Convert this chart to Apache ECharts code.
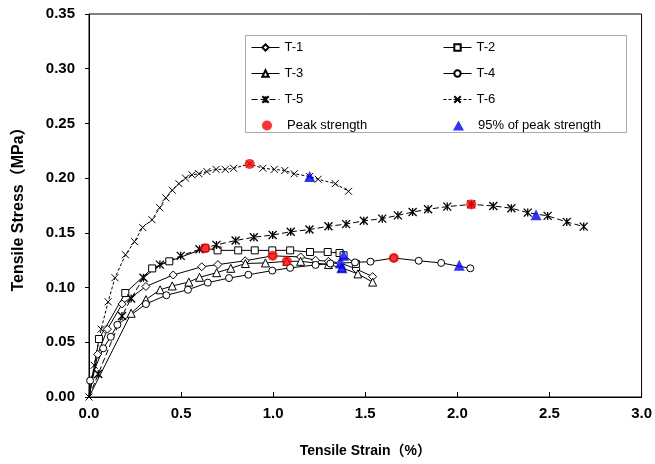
<!DOCTYPE html>
<html>
<head>
<meta charset="utf-8">
<script src="https://cdn.jsdelivr.net/npm/echarts@6/dist/echarts.min.js"></script>
<style>
  html, body { margin: 0; padding: 0; background: #fff; }
  #chart { width: 655px; height: 464px; }
</style>
</head>
<body>
<div id="chart"></div>
<script>
// Tensile stress (MPa) versus tensile strain (%) for specimens T-1 .. T-6
const t1 = [[0,0],[0.047,0.039],[0.10,0.062],[0.18,0.085],[0.309,0.101],[0.457,0.1115],[0.612,0.119],[0.70,0.121],[0.848,0.1245],[0.997,0.129],[1.149,0.128],[1.23,0.125],[1.30,0.124],[1.365,0.1225],[1.45,0.117],[1.54,0.110]];
const t2 = [[0,0],[0.054,0.053],[0.197,0.095],[0.343,0.1175],[0.436,0.124],[0.631,0.136],[0.698,0.134],[0.81,0.134],[0.90,0.134],[0.995,0.134],[1.092,0.134],[1.20,0.1325],[1.296,0.1325],[1.36,0.1316],[1.382,0.1295],[1.449,0.1216]];
const t3 = [[0,0],[0.229,0.0765],[0.309,0.089],[0.386,0.098],[0.452,0.1015],[0.542,0.105],[0.60,0.1094],[0.693,0.1136],[0.77,0.1176],[0.849,0.122],[0.958,0.1225],[1.074,0.124],[1.149,0.124],[1.30,0.121],[1.373,0.118],[1.46,0.1125],[1.54,0.105]];
const t4 = [[0,0],[0.006,0.015],[0.077,0.0445],[0.118,0.055],[0.154,0.066],[0.309,0.085],[0.42,0.093],[0.537,0.098],[0.645,0.1045],[0.76,0.1087],[0.865,0.1117],[0.995,0.1155],[1.092,0.118],[1.23,0.1207],[1.31,0.122],[1.444,0.123],[1.528,0.1237],[1.655,0.127],[1.79,0.1245],[1.912,0.1225],[2.07,0.1176]];
const t5 = [[0,0],[0.05,0.021],[0.179,0.074],[0.229,0.090],[0.296,0.109],[0.385,0.121],[0.498,0.129],[0.60,0.135],[0.692,0.139],[0.796,0.143],[0.895,0.146],[0.997,0.148],[1.095,0.151],[1.197,0.153],[1.30,0.156],[1.396,0.158],[1.492,0.161],[1.592,0.163],[1.677,0.166],[1.757,0.169],[1.841,0.1716],[1.945,0.174],[2.075,0.176],[2.195,0.1746],[2.293,0.1725],[2.382,0.1685],[2.49,0.1655],[2.594,0.160],[2.686,0.1557]];
const t6 = [[0,0],[0.028,0.029],[0.066,0.062],[0.104,0.087],[0.141,0.109],[0.198,0.130],[0.247,0.142],[0.291,0.155],[0.342,0.162],[0.384,0.173],[0.417,0.182],[0.452,0.189],[0.488,0.195],[0.524,0.200],[0.559,0.203],[0.597,0.204],[0.64,0.206],[0.69,0.208],[0.74,0.208],[0.785,0.209],[0.872,0.213],[0.944,0.209],[1.006,0.208],[1.063,0.207],[1.114,0.204],[1.198,0.2015],[1.244,0.199],[1.337,0.195],[1.409,0.188]];

// Peak strength and 95% of peak strength for each specimen
const peakPoints = [[0.997,0.129],[0.631,0.136],[1.074,0.124],[1.655,0.127],[2.075,0.176],[0.872,0.213]];
const peak95Points = [[1.365,0.1225],[1.382,0.1295],[1.373,0.118],[2.01,0.1205],[2.427,0.1665],[1.198,0.2015]];

const xTicks = { min: 0, max: 3, step: 0.5 };
const yTicks = { min: 0, max: 0.35, step: 0.05 };

const FONT = '"Liberation Sans", Arial, "Noto Sans CJK SC", sans-serif';
const crossPath = 'path://M0,0L10,10M10,0L0,10';
const starPath = 'path://M0,0L10,10M10,0L0,10M5,0L5,10';

function curve(name, data, symbol, size, dash, hideFirst) {
  return {
    name, type: 'line', data: data.map((p, i) =>
      (hideFirst && i === 0) ? { value: p, symbol: 'none' } : p),
    symbol, symbolSize: size, showAllSymbol: true,
    lineStyle: { color: '#000', width: 1, type: dash || 'solid' },
    itemStyle: { color: '#fff', borderColor: '#000', borderWidth: 1 },
    emphasis: { disabled: true }, animation: false, z: 3
  };
}

const series = [
  curve('T-1', t1, 'diamond', 8, null, true),
  curve('T-2', t2, 'rect', 7, null, true),
  curve('T-3', t3, 'triangle', 8, null, true),
  curve('T-4', t4, 'circle', 7, null, true),
  curve('T-5', t5, starPath, 8, [6, 3], true),
  curve('T-6', t6, crossPath, 7, [3, 2], false),
  { name: 'Peak strength', type: 'scatter', data: peakPoints, symbol: 'circle', symbolSize: 10,
    itemStyle: { color: '#ff0000' }, z: 5, animation: false },
  { name: '95% of peak strength', type: 'scatter', data: peak95Points, symbol: 'triangle', symbolSize: 11,
    itemStyle: { color: '#0000ff' }, z: 5, animation: false }
];
series[4].itemStyle = { color: '#000', borderColor: '#000', borderWidth: 1.3 };
series[5].itemStyle = { color: '#000', borderColor: '#000', borderWidth: 1 };

const legendText = { fontFamily: FONT, fontSize: 13, color: '#000' };
function legendBlock(names, left, top, w, h, gap, textPad) {
  return { data: names, orient: 'vertical', left, top, itemWidth: w, itemHeight: h, itemGap: gap,
    textStyle: Object.assign({ padding: [0, 0, 0, textPad || 0] }, legendText),
    lineStyle: { width: 1 },
    selectedMode: false, padding: 0 };
}

const chart = echarts.init(document.getElementById('chart'), null, { renderer: 'canvas' });
chart.setOption({
  animation: false,
  backgroundColor: '#fff',
  grid: { left: 89, right: 7, top: 14, bottom: 67, show: true, borderColor: '#000', borderWidth: 1 },
  xAxis: {
    type: 'value', min: xTicks.min, max: xTicks.max, interval: xTicks.step,
    name: 'Tensile Strain（%）', nameLocation: 'middle', nameGap: 47,
    nameTextStyle: { fontFamily: FONT, fontSize: 14, fontWeight: 'bold', color: '#000' },
    axisLine: { lineStyle: { color: '#000', width: 1 } },
    axisTick: { show: true, inside: true, length: 5, lineStyle: { color: '#000' } },
    axisLabel: { fontFamily: FONT, fontSize: 15, fontWeight: 'bold', color: '#000', margin: 9,
      formatter: v => v.toFixed(1) },
    splitLine: { show: false }
  },
  yAxis: {
    type: 'value', min: yTicks.min, max: yTicks.max, interval: yTicks.step,
    name: 'Tensile Stress（MPa）', nameLocation: 'middle', nameGap: 62, nameRotate: 90,
    nameTextStyle: { fontFamily: FONT, fontSize: 16, fontWeight: 'bold', color: '#000' },
    axisLine: { lineStyle: { color: '#000', width: 1 } },
    axisTick: { show: true, inside: false, length: 4, lineStyle: { color: '#000' } },
    axisLabel: { fontFamily: FONT, fontSize: 15, fontWeight: 'bold', color: '#000', margin: 14,
      formatter: v => v.toFixed(2) },
    splitLine: { show: false }
  },
  legend: [
    legendBlock(['T-1', 'T-3', 'T-5'], 251, 41, 28, 8, 13),
    legendBlock(['T-2', 'T-4', 'T-6'], 443, 41, 28, 8, 13),
    legendBlock(['Peak strength'], 262, 119, 10, 10, 0, 10),
    legendBlock(['95% of peak strength'], 453, 119, 11, 10, 0, 9)
  ],
  graphic: [{
    type: 'rect', left: 243, top: 33, z: 10, silent: true,
    shape: { width: 381, height: 97 },
    style: { fill: 'none', stroke: '#aaaaaa', lineWidth: 1 }
  }],
  series
});
</script>
</body>
</html>
